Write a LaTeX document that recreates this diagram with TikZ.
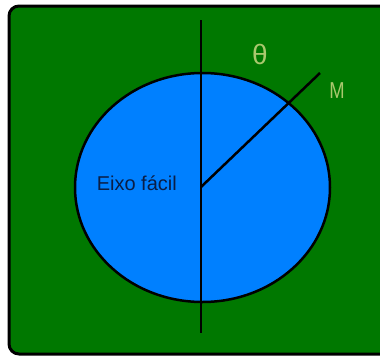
\documentclass[tikz,border=0pt]{standalone}
\usepackage{fontspec}
\setmainfont{Liberation Sans}
\usepackage{xcolor}
\usetikzlibrary{shapes.geometric, positioning}
\definecolor{fundoverde}{RGB}{0,120,0}
\definecolor{discoazul}{RGB}{0,128,255}
\definecolor{rotuloverde}{RGB}{170,200,110}
\definecolor{textoescuro}{RGB}{10,30,70}

\begin{document}
\begin{tikzpicture}[x=1pt, y=-1pt,
    disco/.style={ellipse, draw=black, fill=discoazul, line width=2.5pt, minimum width=255pt, minimum height=229pt, inner sep=0pt},
    eixo/.style={draw=black, line width=2.5pt},
    rotulo/.style={text=rotuloverde, inner sep=0pt}
]
    \clip (0,0) rectangle (380,356);
    % Fundo
    \fill[white] (0,0) rectangle (380,356);
    \draw[fill=fundoverde, draw=black, line width=3pt, rounded corners=10pt] (9,6) rectangle (400,354);

    % Nodes
    \node (disco) [disco] at (202.5,187.5) {};
    \coordinate (centro) at (201,187);
    \coordinate (eixotopo) at (201,20);
    \coordinate (eixobase) at (201,333);
    \coordinate (mponta) at (320,73);
    \node (facil) [left=24pt of centro, text=textoescuro, inner sep=0pt, font=\fontsize{20}{22}\selectfont, yshift=4pt] {Eixo fácil};
    \node (theta) [rotulo, font=\fontsize{28}{30}\selectfont] at (260,54) {θ};
    \node (mlabel) [rotulo, font=\fontsize{23}{25}\selectfont, xscale=0.8] at (337,91) {M};

    % Linhas
    \draw [eixo] (eixotopo) -- (eixobase);
    \draw [eixo] (centro) -- (mponta);
\end{tikzpicture}
\end{document}
